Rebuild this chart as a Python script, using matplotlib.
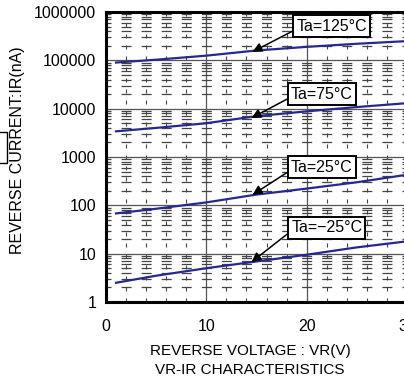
import matplotlib
matplotlib.use("Agg")
import matplotlib.pyplot as plt
from matplotlib.patches import Rectangle
from matplotlib.ticker import FixedLocator, NullFormatter

plt.rcParams["font.family"] = ["Liberation Sans", "DejaVu Sans"]
plt.rcParams["lines.scale_dashes"] = False

# reverse voltage (V) and reverse current (nA) per ambient temperature
volts = [1, 5, 10, 15, 20, 25, 30]
ir_125 = [90000, 103000, 125000, 160000, 190000, 220000, 250000]
ir_75 = [3400, 4000, 5000, 7000, 8800, 10800, 13000]
ir_25 = [68, 85, 115, 167, 222, 300, 430]
ir_m25 = [2.5, 3.5, 5.0, 6.9, 9.5, 13.5, 18]

labels = ["Ta=125°C", "Ta=75°C", "Ta=25°C", "Ta=\u221225°C"]
# where the arrows point (V, nA) and where the boxes sit
arrow_at = [(14.6, 150000), (14.5, 6400), (14.6, 165), (14.5, 6.7)]
box_at = [(22.5, 510000), (21.5, 20000), (21.5, 620), (22.0, 34)]

y_ticks = [1, 10, 100, 1000, 10000, 100000, 1000000]
x_ticks = [0, 10, 20, 30]

W, H = 404, 381
fig = plt.figure(figsize=(W / 100, H / 100), dpi=100)
ax = fig.add_axes([106 / W, 1 - 302 / H, (407 - 106) / W, (302 - 12) / H])

ax.set_yscale("log")
ax.set_xlim(0, 30)
ax.set_ylim(1, 1000000)

# grid: solid majors, dashed minors
ax.xaxis.set_minor_locator(FixedLocator([v for v in range(2, 30, 2) if v % 10]))
ax.yaxis.set_minor_locator(FixedLocator(
    [m * 10 ** d for d in range(6) for m in range(2, 10)]))
ax.yaxis.set_minor_formatter(NullFormatter())

px = 72 / 100
per = 2 * (301 / 30)  # pixels for 2 V
on = 10
ax.grid(which="major", color="#555555", lw=0.9, ls="-")
ax.grid(which="minor", axis="y", color="#444444", lw=0.9,
        ls=(on / 2 * px, (on * px, (per - on) * px)))
ax.grid(which="minor", axis="x", color="#444444", lw=0.8,
        ls=(0, (4 * px, 7 * px)))
ax.set_axisbelow(True)

for ys in (ir_125, ir_75, ir_25, ir_m25):
    ax.plot(volts, ys, color="#27288f", lw=1.6, zorder=3)

for lab, (ax_x, ax_y), (bx, by) in zip(labels, arrow_at, box_at):
    ax.annotate(lab, xy=(ax_x, ax_y), xytext=(bx, by), fontsize=11.5,
                ha="center", va="center", zorder=5,
                bbox=dict(boxstyle="square,pad=0.2", fc="white",
                          ec="black", lw=1.4),
                arrowprops=dict(arrowstyle="-|>", color="black", lw=1.1,
                                mutation_scale=14, relpos=(0, 0.3),
                                shrinkA=0, shrinkB=0))

ax.set_xticks(x_ticks)
ax.set_xticklabels([str(v) for v in x_ticks])
ax.set_yticks(y_ticks)
ax.set_yticklabels([str(v) for v in y_ticks])
ax.tick_params(which="both", length=0, labelsize=11.5)
ax.tick_params(axis="x", pad=12)
ax.tick_params(axis="y", pad=7)

for side in ("left", "bottom", "top"):
    ax.spines[side].set_linewidth(2.2)
ax.spines["right"].set_visible(False)

fig.text(250 / W, 1 - 351 / H, "REVERSE VOLTAGE : VR(V)", fontsize=11,
         ha="center", va="center")
fig.text(250 / W, 1 - 370 / H, "VR-IR CHARACTERISTICS", fontsize=11,
         ha="center", va="center")
fig.text(18 / W, 1 - 150 / H, "REVERSE CURRENT:IR(nA)", fontsize=11.5,
         ha="center", va="center", rotation=90)

# partial box cut by the left edge of the picture
fig.add_artist(Rectangle((-10 / W, 1 - 163 / H), 17 / W, 31 / H,
                         transform=fig.transFigure, fill=False,
                         ec="black", lw=1.0))

fig.savefig("out.png", dpi=100)
